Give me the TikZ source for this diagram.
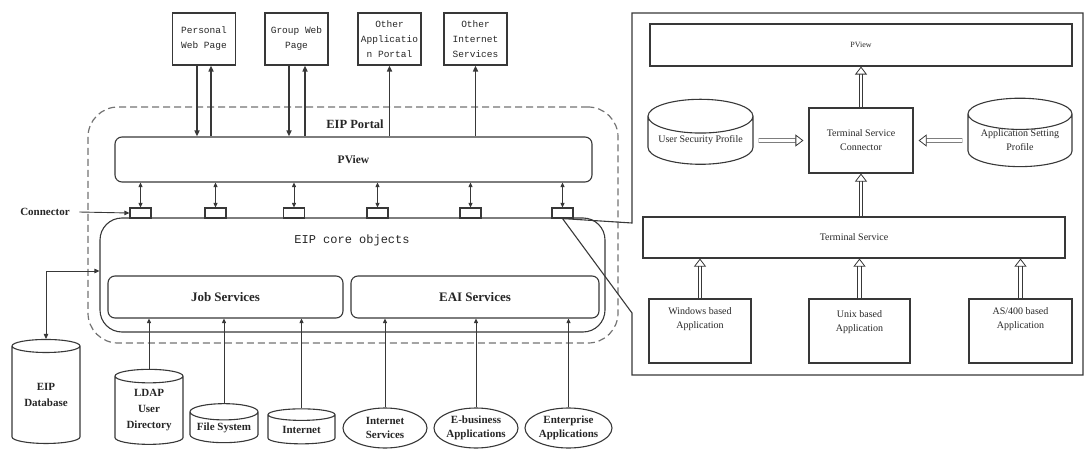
\documentclass[tikz,border=0pt]{standalone}
\usepackage{fontspec}
\setmainfont{Liberation Serif}
\setmonofont{Liberation Mono}
\usetikzlibrary{arrows.meta,shapes.geometric,calc}

\definecolor{ink}{gray}{0.22}
\definecolor{dash}{gray}{0.45}

\begin{document}
\begin{tikzpicture}[x=1pt,y=-1pt,
  every node/.style={text=black!85},
  line/.style={draw=ink, line width=1.1pt},
  tip/.style={-{Triangle[length=6pt,width=5pt]}},
  tiptwo/.style={{Triangle[length=4.5pt,width=4pt]}-{Triangle[length=4.5pt,width=4pt]}},
  webbox/.style={line, rectangle, minimum width=63pt, minimum height=52pt, inner sep=1pt,
    align=center, font=\ttfamily\fontsize{9.5}{15}\selectfont},
  bar/.style={line, rectangle, rounded corners=7pt, inner sep=0pt},
  conn/.style={line, rectangle, minimum width=21pt, minimum height=10pt, inner sep=0pt},
  store/.style={line, cylinder, shape border rotate=90, aspect=0.3, inner sep=0pt,
    align=center, font=\bfseries\fontsize{11}{16}\selectfont},
  oval/.style={line, ellipse, inner sep=0pt, minimum height=40pt, align=center,
    font=\bfseries\fontsize{11}{13.5}\selectfont},
  prect/.style={line, rectangle, inner sep=1pt, align=center, font=\fontsize{10}{14}\selectfont},
  pstore/.style={line, cylinder, shape border rotate=90, aspect=0.4, inner sep=0pt,
    minimum width=105pt, minimum height=65pt, align=center, font=\fontsize{10}{14}\selectfont},
  hollow/.style={draw=ink, line width=0.8pt, double=white, double distance=2.8pt,
    -{Triangle[open,length=8pt,width=12pt,line width=0.8pt]}},
  apptext/.style={font=\fontsize{10}{14}\selectfont, align=center, anchor=north, yshift=-6pt}
]
\useasboundingbox (0,0) rectangle (1085,452);

% ---------- external targets ----------
\node[webbox] (pw) at (204,39) {Personal\\Web Page};
\node[webbox] (gw) at (296.5,39) {Group Web\\Page};
\node[webbox] (oa) at (389.5,39) {Other\\Applicatio\\n Portal};
\node[webbox] (oi) at (475.5,39) {Other\\Internet\\Services};

% ---------- portal frame ----------
\node[draw=dash, line width=1.2pt, dash pattern=on 7pt off 4pt, rounded corners=30pt,
      minimum width=530pt, minimum height=236pt] (portal) at (353,225) {};
\node[font=\bfseries\fontsize{12.5}{14}\selectfont] (portlbl) at (355,124) {EIP Portal};

% presentation layer
\node[bar, minimum width=477pt, minimum height=45pt,
      font=\bfseries\fontsize{11.5}{13}\selectfont] (pv) at (353.5,159.5) {PView};

% core objects
\node[line, rectangle, rounded corners=22pt, minimum width=505pt, minimum height=114pt]
  (core) at (352.5,275) {};
\node[font=\ttfamily\fontsize{12}{14}\selectfont] (corelbl) at (352,240) {EIP core objects};

\node[bar, minimum width=235pt, minimum height=42pt,
      font=\bfseries\fontsize{13}{15}\selectfont] (job) at (225.5,297) {Job Services};
\node[bar, minimum width=248pt, minimum height=42pt,
      font=\bfseries\fontsize{13}{15}\selectfont] (eai) at (475,297) {EAI Services};

% connectors on top of the core
\node[conn] (c1) at (140.5,213) {};
\node[conn] (c2) at (215.5,213) {};
\node[conn] (c3) at (294,213) {};
\node[conn] (c4) at (377.5,213) {};
\node[conn] (c5) at (470.5,213) {};
\node[conn] (c6) at (562.5,213) {};
\foreach \c in {c1,c2,c3,c4,c5,c6}
  \draw[line, line width=0.9pt, tiptwo] (\c.north |- pv.south) -- (\c.north);

\node[font=\bfseries\fontsize{11}{13}\selectfont] (connlbl) at (45,212) {Connector};
\draw[line, line width=0.9pt, -{Triangle[length=5pt,width=4.5pt]}] ([xshift=6pt]connlbl.east) -- (c1.west);

% links to the external targets
\draw[line, line width=1.5pt, tip] ([xshift=-7pt]pw.south) -- ([xshift=-7pt]pw.south |- pv.north);
\draw[line, line width=1.5pt, tip] ([xshift=7pt]pw.south |- pv.north) -- ([xshift=7pt]pw.south);
\draw[line, line width=1.5pt, tip] ([xshift=-7.5pt]gw.south) -- ([xshift=-7.5pt]gw.south |- pv.north);
\draw[line, line width=1.5pt, tip] ([xshift=8.5pt]gw.south |- pv.north) -- ([xshift=8.5pt]gw.south);
\draw[line, line width=1.5pt, tip] (oa.south |- pv.north) -- (oa.south);
\draw[line, line width=1.5pt, tip] (oi.south |- pv.north) -- (oi.south);

% ---------- data sources ----------
\node[store, minimum width=68pt, minimum height=104pt] (db) at (46,395) {EIP\\Database};
\node[store, minimum width=68pt, minimum height=75pt] (ldap) at (149,410.5) {LDAP\\User\\Directory};
\node[store, minimum width=68pt, minimum height=39pt] (fs) at (224,427.5) {File System};
\node[store, minimum width=67pt, minimum height=35pt] (inet) at (301.5,429.5) {Internet};
\node[oval, minimum width=84pt] (isvc) at (385,428) {Internet\\Services};
\node[oval, minimum width=84pt] (ebiz) at (476,428) {E-business\\Applications};
\node[oval, minimum width=87pt] (ent) at (568.5,428) {Enterprise\\Applications};

\draw[line, line width=0.9pt, {Triangle[length=5pt,width=4.5pt]}-{Triangle[length=5pt,width=4.5pt]}]
  ([yshift=4pt]core.west) -| (db.north);
\foreach \s in {ldap,fs,inet}
  \draw[line, line width=0.9pt, -{Triangle[length=4.5pt,width=4pt]}] (\s.north) -- (\s.north |- job.south);
\foreach \s in {isvc,ebiz,ent}
  \draw[line, line width=0.9pt, -{Triangle[length=4.5pt,width=4pt]}] (\s.north) -- (\s.north |- eai.south);

% ---------- terminal service detail ----------
\coordinate (pnw) at (632,13);
\coordinate (pne) at (1083,13);
\coordinate (pse) at (1083,375);
\coordinate (psw) at (632,375);
\draw[line] (c6.south) -- (632,223) -- (pnw) -- (pne) -- (pse) -- (psw) -- (632,313) -- cycle;

\node[prect, minimum width=422pt, minimum height=42pt, font=\fontsize{8}{10}\selectfont] (ppv) at (861,45) {PView};
\node[prect, minimum width=104pt, minimum height=65pt] (tsc) at (861,140.5) {Terminal Service\\Connector};
\node[pstore] (usp) at (700.5,140.5) {User Security Profile};
\node[pstore, minimum width=104pt] (asp) at (1020,140.5) {Application Setting\\Profile};
\node[prect, minimum width=422pt, minimum height=41pt] (ts) at (854,237.5) {Terminal Service};

\node[prect, minimum width=102pt, minimum height=64pt,
      label={[apptext]north:Windows based\\Application}] (wba) at (700,331) {};
\node[prect, minimum width=101pt, minimum height=64pt,
      label={[apptext, yshift=-3pt]north:Unix based\\Application}] (uba) at (859.5,331) {};
\node[prect, minimum width=103pt, minimum height=64pt,
      label={[apptext]north:AS/400 based\\Application}] (aba) at (1020.5,331) {};

\draw[hollow] (tsc.north) -- (ppv.south);
\draw[hollow] (tsc.south |- ts.north) -- (tsc.south);
\draw[hollow, shorten <=5pt, shorten >=5pt] (usp.east) -- (tsc.west);
\draw[hollow, shorten <=5pt, shorten >=5pt] (asp.west) -- (tsc.east);
\foreach \a in {wba,uba,aba}
  \draw[hollow] (\a.north) -- (\a.north |- ts.south);
\end{tikzpicture}
\end{document}
